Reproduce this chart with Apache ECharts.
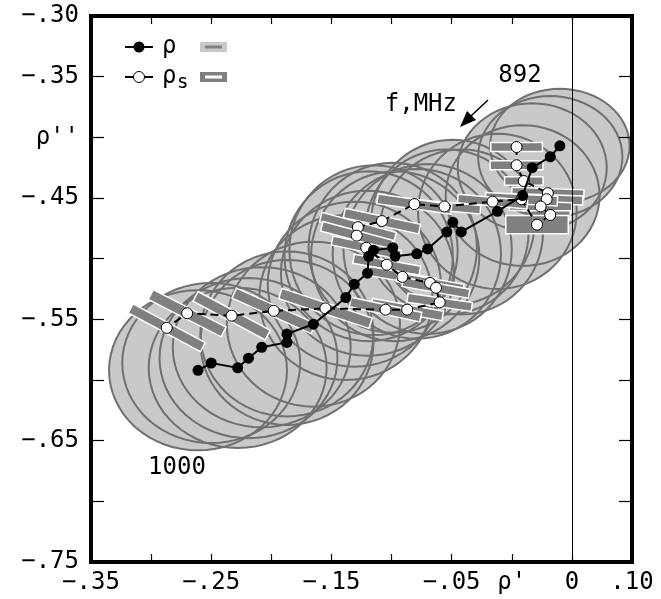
<!DOCTYPE html>
<html>
<head>
<meta charset="utf-8">
<script src="https://cdn.jsdelivr.net/npm/echarts@6/dist/echarts.min.js"></script>
<style>
  html, body { margin: 0; padding: 0; background: #fff; }
  #chart { width: 661px; height: 599px; }
</style>
</head>
<body>
<div id="chart"></div>
<script>
// tick labels as printed on the original figure
var xTickLabels = ['\u2212.35', '', '\u2212.25', '', '\u2212.15', '', '\u2212.05', "\u03c1'", '0', '.10'];
var yTickLabels = ['\u2212.75', '', '\u2212.65', '', '\u2212.55', '', '\u2212.45', "\u03c1''", '\u2212.35', '\u2212.30'];
var zeroLineX = 0.05;

// rho, from 892 MHz (top right) to 1000 MHz (bottom left)
var rhoRe = [0.040, 0.032, 0.017, 0.009, -0.012, -0.042, -0.049, -0.054, -0.070, -0.079, -0.097, -0.099, -0.115,
             -0.119, -0.120, -0.131, -0.138, -0.165, -0.187, -0.187, -0.208, -0.219, -0.228, -0.250, -0.261];
var rhoIm = [-0.407, -0.416, -0.425, -0.448, -0.461, -0.478, -0.470, -0.478, -0.492, -0.496, -0.498, -0.491, -0.493,
             -0.498, -0.512, -0.521, -0.532, -0.554, -0.562, -0.569, -0.573, -0.582, -0.590, -0.586, -0.592];
// half sizes of the uncertainty region around each rho
var rhoDx = [0.058, 0.060, 0.062, 0.064, 0.066, 0.068, 0.068, 0.068, 0.070, 0.070, 0.070, 0.070, 0.070,
             0.070, 0.072, 0.072, 0.072, 0.072, 0.072, 0.072, 0.074, 0.074, 0.074, 0.074, 0.074];
var rhoDy = [0.047, 0.050, 0.053, 0.058, 0.064, 0.068, 0.068, 0.068, 0.070, 0.070, 0.070, 0.070, 0.070,
             0.070, 0.068, 0.068, 0.068, 0.068, 0.068, 0.068, 0.066, 0.066, 0.066, 0.066, 0.066];

// rho_s
var rhosRe = [0.004, 0.004, 0.010, 0.030, 0.029, 0.024, 0.032, 0.021, 0.008, -0.016, -0.056, -0.081, -0.108, -0.128,
              -0.129, -0.121, -0.104, -0.091, -0.068, -0.063, -0.060, -0.087, -0.105, -0.155, -0.198, -0.233, -0.270, -0.287];
var rhosIm = [-0.408, -0.423, -0.436, -0.446, -0.451, -0.457, -0.464, -0.472, -0.451, -0.453, -0.457, -0.455, -0.469, -0.474,
              -0.481, -0.491, -0.505, -0.515, -0.520, -0.524, -0.536, -0.542, -0.542, -0.541, -0.543, -0.547, -0.545, -0.557];
// box around each rho_s: length, width, tilt (deg)
var boxLen = [0.043, 0.044, 0.032, 0.060, 0.060, 0.052, 0.033, 0.052, 0.060, 0.058, 0.060, 0.062, 0.064, 0.064,
              0.060, 0.058, 0.056, 0.056, 0.056, 0.056, 0.054, 0.060, 0.060, 0.079, 0.072, 0.068, 0.068, 0.068];
var boxWid = [0.0075, 0.0075, 0.007, 0.0075, 0.0075, 0.008, 0.007, 0.015, 0.008, 0.007, 0.007, 0.008, 0.008, 0.008,
              0.008, 0.0075, 0.0075, 0.0075, 0.0075, 0.0075, 0.0075, 0.008, 0.008, 0.009, 0.009, 0.009, 0.009, 0.0085];
var boxAng = [0, 0, 0, 2, 2, 2, 0, 0, 3, 5, 5, 8, 12, 15, 15, 12, 10, 10, 10, 10, 8, 10, 12, 18, 24, 28, 27, 28];

var chart = echarts.init(document.getElementById('chart'));
var mono = 'DejaVu Sans Mono';

function ellipsePoints(api) {
  var cx = api.value(0), cy = api.value(1), rx = api.value(2), ry = api.value(3);
  var pts = [];
  for (var k = 0; k < 64; k++) {
    var t = k / 64 * Math.PI * 2;
    pts.push(api.coord([cx + rx * Math.cos(t), cy + ry * Math.sin(t)]));
  }
  return pts;
}

var regionData = rhoRe.map(function (x, i) { return [x, rhoIm[i], rhoDx[i], rhoDy[i]]; });
var boxData = rhosRe.map(function (x, i) { return [x, rhosIm[i], boxLen[i], boxWid[i], boxAng[i]]; });

function tick(len) {
  return { inside: true, length: len, lineStyle: { color: '#000', width: 1.2 } };
}

var option = {
  animation: false,
  textStyle: { fontFamily: mono },
  grid: { left: 91, top: 16, width: 541, height: 546, show: true, borderColor: '#000', borderWidth: 4, backgroundColor: 'transparent', z: 10 },
  xAxis: [{
    type: 'value', min: -0.35, max: 0.10, interval: 0.05, z: 10,
    axisLine: { show: false, onZero: false }, splitLine: { show: false },
    axisTick: tick(8),
    axisLabel: {
      margin: 9, color: '#000', fontSize: 24, fontFamily: mono, showMinLabel: true, showMaxLabel: true,
      formatter: function (v) { return xTickLabels[Math.round((v + 0.35) / 0.05)] || ''; }
    }
  }, {
    type: 'value', position: 'top', min: -0.35, max: 0.10, interval: 0.05, z: 10,
    axisLine: { show: false, onZero: false }, splitLine: { show: false }, axisLabel: { show: false },
    axisTick: tick(8)
  }],
  yAxis: [{
    type: 'value', position: 'left', min: -0.75, max: -0.30, interval: 0.05, z: 10,
    axisLine: { show: false, onZero: false }, splitLine: { show: false },
    axisTick: tick(13),
    axisLabel: {
      margin: 12, color: '#000', fontSize: 24, fontFamily: mono, showMinLabel: true, showMaxLabel: true,
      formatter: function (v) { return yTickLabels[Math.round((v + 0.75) / 0.05)] || ''; }
    }
  }, {
    type: 'value', position: 'right', min: -0.75, max: -0.30, interval: 0.05, z: 10,
    axisLine: { show: false, onZero: false }, splitLine: { show: false }, axisLabel: { show: false },
    axisTick: tick(13)
  }],
  series: [
    {
      name: 'regionFill', type: 'custom', z: 1, clip: true, data: regionData,
      encode: { x: 0, y: 1 },
      renderItem: function (params, api) {
        return { type: 'polygon', shape: { points: ellipsePoints(api) }, style: { fill: '#c9c9c9', stroke: null } };
      }
    },
    {
      name: 'regionEdge', type: 'custom', z: 2, clip: true, data: regionData,
      encode: { x: 0, y: 1 },
      renderItem: function (params, api) {
        return { type: 'polygon', shape: { points: ellipsePoints(api) }, style: { fill: null, stroke: '#707070', lineWidth: 2 } };
      }
    },
    {
      name: 'boxes', type: 'custom', z: 3, clip: true, data: boxData,
      encode: { x: 0, y: 1 },
      renderItem: function (params, api) {
        var x = api.value(0), y = api.value(1);
        var L = api.value(2) / 2, W = api.value(3) / 2, a = api.value(4) * Math.PI / 180;
        var dx = Math.cos(a), dy = -Math.sin(a), nx = Math.sin(a), ny = Math.cos(a);
        var pts = [
          [x - L * dx + W * nx, y - L * dy + W * ny],
          [x + L * dx + W * nx, y + L * dy + W * ny],
          [x + L * dx - W * nx, y + L * dy - W * ny],
          [x - L * dx - W * nx, y - L * dy - W * ny]
        ].map(function (p) { return api.coord(p); });
        return { type: 'polygon', shape: { points: pts }, style: { fill: '#808080', stroke: '#fff', lineWidth: 1.5 } };
      }
    },
    {
      name: 'rhos', type: 'line', z: 4, data: rhosRe.map(function (x, i) { return [x, rhosIm[i]]; }),
      symbol: 'circle', symbolSize: 11,
      itemStyle: { color: '#fff', borderColor: '#000', borderWidth: 1 },
      lineStyle: { color: '#000', width: 2, type: [8, 5] },
      markLine: {
        silent: true, symbol: 'none', label: { show: false },
        lineStyle: { color: '#000', width: 1, type: 'solid' },
        data: [{ xAxis: zeroLineX }]
      }
    },
    {
      name: 'rho', type: 'line', z: 5, data: rhoRe.map(function (x, i) { return [x, rhoIm[i]]; }),
      symbol: 'circle', symbolSize: 11,
      itemStyle: { color: '#000', borderColor: '#000', borderWidth: 0 },
      lineStyle: { color: '#000', width: 2 }
    }
  ],
  graphic: [
    // legend
    { type: 'line', shape: { x1: 125, y1: 47, x2: 153, y2: 47 }, style: { stroke: '#000', lineWidth: 2 } },
    { type: 'circle', shape: { cx: 139, cy: 47, r: 5.5 }, style: { fill: '#000' } },
    { type: 'text', x: 162, y: 47, style: { text: '\u03c1', font: '24px "DejaVu Sans Mono"', fill: '#000', verticalAlign: 'middle' } },
    { type: 'rect', shape: { x: 200, y: 42, width: 27, height: 10 }, style: { fill: '#c9c9c9' } },
    { type: 'line', shape: { x1: 205, y1: 47, x2: 222, y2: 47 }, style: { stroke: '#808080', lineWidth: 3 } },
    { type: 'line', shape: { x1: 125, y1: 77, x2: 153, y2: 77 }, style: { stroke: '#000', lineWidth: 2 } },
    { type: 'circle', shape: { cx: 139, cy: 77, r: 5.5 }, style: { fill: '#fff', stroke: '#000', lineWidth: 1 } },
    { type: 'text', x: 162, y: 77, style: { text: '\u03c1', font: '24px "DejaVu Sans Mono"', fill: '#000', verticalAlign: 'middle' } },
    { type: 'text', x: 177, y: 83, style: { text: 's', font: '19px "DejaVu Sans Mono"', fill: '#000', verticalAlign: 'middle' } },
    { type: 'rect', shape: { x: 200, y: 72, width: 27, height: 10 }, style: { fill: '#808080' } },
    { type: 'line', shape: { x1: 205, y1: 77, x2: 222, y2: 77 }, style: { stroke: '#fff', lineWidth: 3 } },
    // annotations
    { type: 'text', x: 520, y: 76, style: { text: '892', font: '24px "DejaVu Sans Mono"', fill: '#000', align: 'center', verticalAlign: 'middle' } },
    { type: 'text', x: 457, y: 105, style: { text: 'f,MHz', font: '24px "DejaVu Sans Mono"', fill: '#000', align: 'right', verticalAlign: 'middle' } },
    { type: 'text', x: 177, y: 468, style: { text: '1000', font: '24px "DejaVu Sans Mono"', fill: '#000', align: 'center', verticalAlign: 'middle' } },
    { type: 'line', shape: { x1: 488, y1: 100, x2: 471, y2: 116 }, style: { stroke: '#000', lineWidth: 1.5 } },
    { type: 'polygon', shape: { points: [[460, 127], [476, 120], [467, 111]] }, style: { fill: '#000' } }
  ]
};

chart.setOption(option);
window.addEventListener('resize', function () { chart.resize(); });
</script>
</body>
</html>
